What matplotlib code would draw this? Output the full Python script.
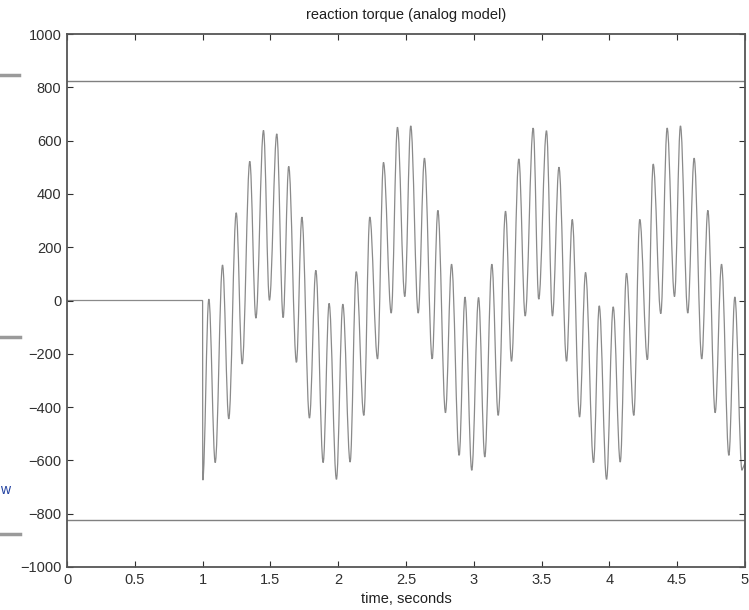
import matplotlib
matplotlib.use("Agg")
import matplotlib.pyplot as plt
from matplotlib.lines import Line2D
from matplotlib.path import Path
from matplotlib.patches import PathPatch

# extrema of the reaction torque (time s, torque)
time_s = [0.0, 1.0, 1.001, 1.046, 1.093, 1.147, 1.193, 1.248, 1.292, 1.348, 1.393,
          1.449, 1.493, 1.547, 1.594, 1.635, 1.692, 1.732, 1.788, 1.835, 1.889,
          1.933, 1.987, 2.034, 2.088, 2.133, 2.189, 2.233, 2.290, 2.334, 2.391,
          2.437, 2.491, 2.535, 2.590, 2.636, 2.693, 2.735, 2.791, 2.836, 2.892,
          2.935, 2.985, 3.035, 3.081, 3.133, 3.180, 3.234, 3.278, 3.332, 3.379,
          3.438, 3.479, 3.536, 3.580, 3.628, 3.684, 3.726, 3.780, 3.824, 3.883,
          3.925, 3.979, 4.028, 4.080, 4.126, 4.180, 4.224, 4.280, 4.323, 4.379,
          4.426, 4.480, 4.524, 4.578, 4.625, 4.681, 4.726, 4.780, 4.827, 4.881,
          4.925, 4.978, 5.0]
torque = [0, 0, -674, 5, -608, 133, -444, 329, -238, 522, -66,
          638, 1, 625, -64, 503, -232, 313, -441, 113, -608,
          -11, -671, -14, -606, 108, -431, 313, -219, 518, -47,
          650, 15, 655, -47, 534, -219, 338, -421, 136, -581,
          13, -637, 11, -587, 136, -431, 335, -228, 531, -58,
          647, 5, 637, -58, 500, -228, 304, -437, 105, -608,
          -20, -671, -24, -606, 102, -431, 304, -222, 512, -49,
          647, 15, 655, -47, 534, -219, 338, -421, 136, -581,
          13, -637, -610]
limit = 825
x_ticks = [0, 0.5, 1, 1.5, 2, 2.5, 3, 3.5, 4, 4.5, 5]
x_tick_labels = ["0", "0.5", "1", "1.5", "2", "2.5", "3", "3.5", "4", "4.5", "5"]
y_ticks = [-1000, -800, -600, -400, -200, 0, 200, 400, 600, 800, 1000]

plt.rcParams['font.family'] = ['Liberation Sans', 'DejaVu Sans']

fig = plt.figure(figsize=(7.49, 6.10), dpi=100)
ax = fig.add_axes([67 / 749, (610 - 567) / 610, (745 - 67) / 749, (567 - 34) / 610])

# build a smooth path through the extrema (horizontal tangents at each extremum)
verts = [(time_s[0], torque[0])]
codes = [Path.MOVETO]
k = 0.36
for i in range(1, len(time_s)):
    t0, v0 = time_s[i - 1], torque[i - 1]
    t1, v1 = time_s[i], torque[i]
    dt = t1 - t0
    if i <= 2 or i == len(time_s) - 1:
        verts.append((t1, v1))
        codes.append(Path.LINETO)
    else:
        verts += [(t0 + k * dt, v0), (t1 - k * dt, v1), (t1, v1)]
        codes += [Path.CURVE4, Path.CURVE4, Path.CURVE4]
ax.add_patch(PathPatch(Path(verts, codes), facecolor='none', edgecolor='#8a8a8a',
                       linewidth=0.9, transform=ax.transData))
ax.axhline(limit, color='#808080', linewidth=1.0)
ax.axhline(-limit, color='#808080', linewidth=1.0)

ax.set_xlim(0, 5)
ax.set_ylim(-1000, 1000)
ax.set_xticks(x_ticks)
ax.set_xticklabels(x_tick_labels)
ax.set_yticks(y_ticks)
ax.tick_params(direction='in', length=4, width=0.8, top=True, right=True,
               labelsize=10.5, colors='#303030', pad=4)
for sp in ax.spines.values():
    sp.set_color('#555555')
    sp.set_linewidth(1.3)

ax.set_title('reaction torque (analog model)', fontsize=10.5, color='#202020', pad=11)
ax.set_xlabel('time, seconds', fontsize=10.5, color='#202020', labelpad=4)

# cropped-off marks at the left edge of the reference image
for yy, x2 in [(75, 19), (337, 20), (534, 20)]:
    fig.add_artist(Line2D([0, x2 / 749], [1 - yy / 610, 1 - yy / 610],
                          color='#9a9a9a', linewidth=2.5, transform=fig.transFigure))
fig.text(0.0, 1 - 490 / 610, 'w', color='#2040a0', fontsize=10, va='center', ha='left')

fig.savefig('out.png', dpi=100)
